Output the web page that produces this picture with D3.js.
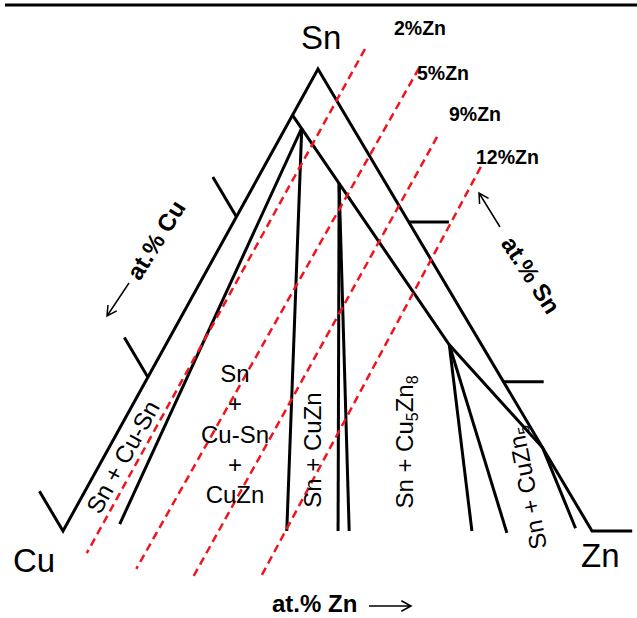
<!DOCTYPE html>
<html><head><meta charset="utf-8">
<script src="https://cdn.jsdelivr.net/npm/d3@7"></script>
<style>html,body{margin:0;padding:0;background:#fff;} svg{display:block;}</style>
</head><body>
<svg id="chart" width="637" height="618"></svg>
<script>
// ---- Data: points given as [at.% Sn, at.% Zn] in the sketch's ternary frame ----
const cornerNames = ["Cu", "Sn", "Zn"];
const cornerPoints = [[0, 0], [100, 0], [0, 100]];          // Cu, Sn, Zn
const leftSideTicks = [0, 33.3, 68.0];                       // at.% Sn on Cu–Sn side
const rightSideTicks = [0, 32.3, 66.9];                      // at.% Sn on Sn–Zn side
const innerBoundary = [[90.0, 0], [40.3, 53.6], [18.0, 82.0], [0.6, 96.6]];
const tieLineStarts = [[87.2, 3.1], [87.2, 3.1], [75.3, 15.9], [75.3, 15.9], [40.3, 53.6], [40.3, 53.6]];
const tieLineEnds   = [[1.5, 10.0], [0, 42.3], [0, 52.0], [0, 54.1], [0, 77.3], [-0.4, 84.1]];
const zincLabels = ["2%Zn", "5%Zn", "9%Zn", "12%Zn"];
const zincLineTops    = [[104.3, 6.8], [100.2, 19.0], [85.3, 29.6], [78.8, 41.0]];
const zincLineBottoms = [[-4.8, 6.8], [-8.2, 17.8], [-10.0, 29.4], [-10.2, 42.2]];
const stackedLabel = ["Sn", "+", "Cu-Sn", "+", "CuZn"];

// ---- Scales / projection ----
const apexSkew = 0.482;
const xScale = d3.scaleLinear().domain([0, 100]).range([63, 592]);
const yScale = d3.scaleLinear().domain([0, 100]).range([531, 69]);
const P = d => [xScale(d[1] + apexSkew * d[0]), yScale(d[0])];

const svg = d3.select("#chart");
const FONT = "'Liberation Sans', Arial, Helvetica, sans-serif";
const line = d3.line();

// top rule
svg.append("line").attr("x1", 5).attr("x2", 637).attr("y1", 5).attr("y2", 5)
  .attr("stroke", "#000").attr("stroke-width", 3);

// ---- outline with corner ticks ----
const tl = 8.6, tr = 7.6;
const [cu, sn, zn] = cornerPoints;
const outlinePts = [[cu[0] + tl, cu[1] - tl], cu, sn, zn, [zn[0], zn[1] + tr]];
const g = svg.append("g").attr("fill", "none").attr("stroke", "#000").attr("stroke-width", 3);
g.append("path").attr("d", line(outlinePts.map(P))).attr("stroke-linejoin", "miter").attr("stroke-miterlimit", 10);
leftSideTicks.slice(1).forEach(s => {
  g.append("path").attr("d", line([[s, 0], [s + tl, -tl]].map(P)));
});
rightSideTicks.slice(1).forEach(s => {
  g.append("path").attr("d", line([[s, 100 - s], [s, 100 - s + tr]].map(P)));
});

// inner boundary and tie lines
g.append("path").attr("d", line(innerBoundary.map(P))).attr("stroke-linejoin", "miter");
tieLineStarts.forEach((s, i) => {
  g.append("path").attr("d", line([s, tieLineEnds[i]].map(P)));
});

// red dashed iso-Zn lines
const rg = svg.append("g").attr("stroke", "#f0141e").attr("stroke-width", 2.5)
  .attr("stroke-dasharray", "8,5").attr("fill", "none");
zincLineTops.forEach((t, i) => {
  rg.append("path").attr("d", line([t, zincLineBottoms[i]].map(P)));
});

// ---- text ----
function txt(s, x, y, opts = {}) {
  const t = svg.append("text").attr("x", x).attr("y", y)
    .attr("font-family", FONT).attr("font-size", opts.size || 24)
    .attr("font-weight", opts.bold ? "bold" : "normal")
    .attr("text-anchor", opts.anchor || "start").attr("fill", "#000");
  if (opts.rot !== undefined) t.attr("transform", `rotate(${opts.rot},${x},${y})`);
  if (opts.dy) t.attr("dy", opts.dy);
  if (s !== null) t.text(s);
  return t;
}
// corner labels
const cornerLabelPos = [[13, 572], [301, 49], [581, 567]];
cornerNames.forEach((n, i) => txt(n, cornerLabelPos[i][0], cornerLabelPos[i][1], { size: 33 }));

// zinc labels
const zincLabelPos = [[394, 35], [417, 80], [449, 121], [476, 164]];
zincLabels.forEach((n, i) => txt(n, zincLabelPos[i][0], zincLabelPos[i][1], { size: 19.5, bold: true }));

// region labels
txt("Sn + Cu-Sn", 123, 457, { rot: -61, anchor: "middle", dy: "0.35em" });
stackedLabel.forEach((s, i) => txt(s, 235, 382 + i * 30.3, { anchor: "middle" }));
txt("Sn + CuZn", 313, 450, { rot: -90, anchor: "middle", dy: "0.35em" });
{
  const t = txt(null, 413, 442, { rot: -90, anchor: "middle" });
  t.append("tspan").text("Sn + Cu");
  t.append("tspan").attr("font-size", 16).attr("dy", 5).text("5");
  t.append("tspan").attr("dy", -5).text("Zn");
  t.append("tspan").attr("font-size", 16).attr("dy", 5).text("8");
}
{
  const t = txt(null, 527, 488, { rot: -101, anchor: "middle", dy: "0.35em" });
  t.append("tspan").text("Sn + CuZn");
  t.append("tspan").attr("font-size", 16).attr("dy", 5).text("5");
}

// axis captions
txt("at.% Cu", 156, 240, { rot: -58, anchor: "middle", dy: "0.35em", size: 24, bold: true });
txt("at.% Sn", 531, 275, { rot: 57, anchor: "middle", dy: "0.35em", size: 24, bold: true });
txt("at.% Zn", 272, 612, { size: 24, bold: true });

// arrows
function arrow(x1, y1, x2, y2) {
  const a = Math.atan2(y2 - y1, x2 - x1), L = 11, w = 0.5;
  const h1 = [x2 - L * Math.cos(a - w), y2 - L * Math.sin(a - w)];
  const h2 = [x2 - L * Math.cos(a + w), y2 - L * Math.sin(a + w)];
  svg.append("path").attr("d", `M${x1},${y1}L${x2},${y2}M${h1}L${x2},${y2}L${h2}`)
    .attr("fill", "none").attr("stroke", "#000").attr("stroke-width", 1.5);
}
arrow(129, 283, 107, 316);
arrow(500, 227, 479, 193);
arrow(369, 606, 411, 606);
</script>
</body></html>
